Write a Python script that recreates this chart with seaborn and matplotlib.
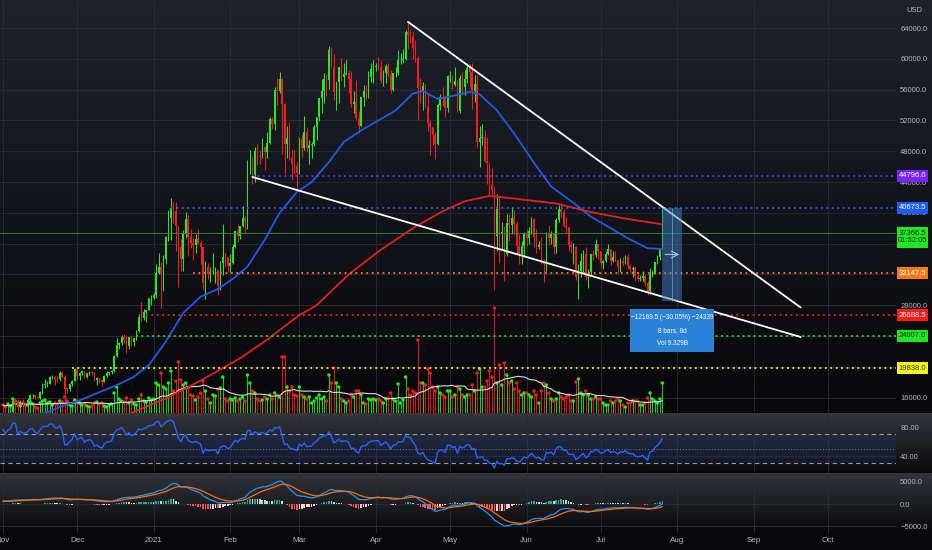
import numpy as np
import pandas as pd
import matplotlib
matplotlib.use('Agg')
import matplotlib.pyplot as plt
import matplotlib.dates as mdates
from matplotlib.patches import Rectangle
import seaborn as sns

# daily BTC/USD candles, 2020-11-01 .. 2021-07-26, prices in thousands
first_open = 13.78
closes = [
    # Nov
    13.74, 13.55, 14.03, 14.16, 15.59, 15.58, 14.83, 15.48, 15.33, 15.30,
    15.70, 16.28, 16.32, 16.07, 15.96, 16.72, 17.65, 17.80, 17.82, 18.65,
    18.70, 18.42, 18.37, 19.15, 18.72, 17.15, 17.14, 17.72, 18.18, 19.70,
    # Dec
    18.79, 19.22, 19.45, 18.70, 19.15, 19.36, 19.17, 18.32, 18.55, 18.26,
    18.04, 18.81, 19.17, 19.27, 19.44, 21.38, 22.80, 23.14, 23.87, 23.48,
    22.75, 23.83, 23.25, 23.72, 24.71, 26.49, 26.28, 27.08, 27.38, 28.88, 28.99,
    # Jan
    29.39, 32.20, 33.00, 31.99, 33.99, 36.82, 39.37, 40.67, 40.24, 38.24,
    35.54, 34.01, 37.39, 39.19, 36.83, 36.07, 35.82, 36.63, 36.07, 35.52,
    30.83, 33.01, 32.08, 32.28, 32.37, 32.57, 30.43, 33.47, 34.32, 34.27, 33.11,
    # Feb
    33.52, 35.51, 37.67, 36.95, 38.29, 39.27, 38.90, 46.43, 46.53, 44.85,
    47.98, 47.41, 47.19, 48.58, 47.94, 49.13, 52.12, 51.59, 55.89, 55.84,
    57.41, 54.09, 48.89, 49.68, 47.07, 46.28, 46.11, 45.14,
    # Mar
    49.63, 48.38, 50.54, 48.44, 48.86, 48.88, 51.21, 52.38, 54.88, 55.86,
    57.33, 57.23, 61.19, 59.00, 55.65, 56.93, 58.92, 57.65, 58.03, 58.10,
    57.35, 54.08, 54.34, 52.30, 51.31, 55.03, 55.85, 55.78, 57.63, 58.73, 58.92,
    # Apr
    59.10, 59.00, 57.10, 58.20, 59.10, 58.00, 56.00, 58.10, 58.10, 59.80,
    59.80, 59.99, 63.50, 63.10, 62.95, 61.35, 60.10, 56.20, 55.70, 56.50,
    53.80, 51.70, 51.10, 50.10, 49.00, 54.00, 55.00, 54.90, 53.55, 57.75,
    # May
    57.80, 56.60, 57.15, 53.20, 57.50, 56.40, 57.35, 58.80, 58.25, 55.85,
    56.70, 49.15, 49.70, 49.90, 46.75, 46.45, 43.55, 42.90, 37.00, 40.75,
    37.30, 37.50, 34.70, 38.70, 38.40, 39.30, 38.55, 35.65, 34.60, 35.65, 37.30,
    # Jun
    36.70, 37.60, 39.20, 36.85, 35.50, 35.80, 33.60, 33.40, 37.40, 36.70,
    37.30, 35.55, 39.10, 40.50, 40.15, 38.35, 38.10, 35.85, 35.50, 35.60,
    31.60, 32.50, 33.70, 34.65, 31.60, 32.25, 34.70, 34.50, 35.90, 35.05,
    # Jul
    33.50, 33.80, 34.70, 35.30, 33.70, 34.20, 33.85, 32.90, 33.80, 33.50,
    34.25, 33.10, 32.70, 32.80, 31.85, 31.40, 31.50, 31.80, 30.85, 29.80,
    32.10, 32.30, 33.60, 34.30, 35.40, 37.37,
]
highs = [
    13.89, 13.81, 14.07, 14.23, 15.75, 15.95, 15.76, 15.63, 15.81, 15.45,
    15.95, 16.48, 16.48, 16.33, 16.13, 16.87, 17.85, 18.48, 18.13, 18.79,
    18.95, 18.75, 18.76, 19.40, 19.47, 18.90, 17.43, 17.88, 18.35, 19.86,
    19.92, 19.31, 19.57, 19.51, 19.17, 19.41, 19.42, 19.29, 18.64, 18.56,
    18.29, 18.94, 19.41, 19.35, 19.57, 21.56, 23.77, 23.28, 24.17, 24.30,
    24.10, 23.84, 24.10, 23.79, 24.79, 26.86, 28.40, 27.47, 27.41, 28.99, 29.30,
    29.60, 33.30, 34.78, 33.60, 34.50, 36.94, 40.37, 41.95, 41.38, 41.35,
    38.30, 36.60, 37.80, 40.10, 39.70, 37.90, 36.80, 37.30, 37.85, 36.40,
    35.60, 33.80, 33.50, 32.90, 34.80, 32.90, 32.60, 33.80, 38.50, 34.90, 34.30,
    34.70, 35.90, 37.70, 38.60, 38.30, 40.90, 39.60, 46.80, 48.20, 47.30,
    48.60, 48.90, 48.10, 49.70, 48.70, 50.50, 52.50, 52.50, 56.30, 57.50,
    58.30, 57.50, 54.20, 51.30, 51.80, 48.30, 48.20, 46.60,
    49.80, 50.20, 52.60, 51.10, 49.40, 49.20, 51.40, 52.40, 54.90, 57.40,
    58.10, 58.00, 61.70, 61.60, 60.60, 56.95, 58.97, 60.10, 59.40, 59.90,
    58.60, 58.40, 55.80, 57.20, 53.20, 55.10, 56.60, 56.60, 58.40, 59.40, 59.80,
    59.50, 60.20, 59.80, 58.50, 59.30, 59.40, 58.60, 58.20, 58.90, 61.20,
    60.70, 61.30, 63.80, 64.90, 63.80, 63.50, 62.50, 60.40, 57.50, 57.00,
    56.70, 55.50, 52.10, 51.20, 50.50, 54.30, 55.40, 56.40, 55.20, 57.90,
    58.40, 57.90, 58.90, 57.20, 57.90, 58.30, 58.60, 59.50, 59.30, 59.50,
    57.90, 57.90, 51.30, 51.50, 50.70, 49.80, 46.60, 45.80, 43.50, 42.50,
    42.20, 38.80, 38.30, 39.90, 39.80, 40.80, 40.40, 38.90, 37.30, 36.40, 37.50,
    37.90, 38.20, 39.50, 39.30, 37.90, 36.40, 36.80, 34.00, 37.50, 38.40,
    37.70, 37.40, 39.30, 41.00, 41.30, 40.50, 39.50, 38.20, 36.40, 36.10,
    35.70, 33.30, 34.80, 35.20, 35.50, 32.70, 34.70, 35.20, 36.60, 36.00,
    35.00, 33.90, 35.00, 35.90, 35.30, 35.00, 35.00, 33.90, 34.10, 34.30,
    34.50, 34.60, 33.30, 33.10, 33.10, 32.20, 31.90, 32.40, 31.90, 31.10,
    32.80, 32.60, 33.60, 34.50, 35.40, 40.67,
]
lows = [
    13.63, 13.20, 13.29, 13.53, 14.09, 15.19, 14.38, 14.72, 14.84, 15.07,
    15.26, 15.42, 15.95, 15.80, 15.87, 15.87, 16.53, 17.23, 17.35, 17.76,
    18.36, 17.64, 18.00, 18.10, 18.57, 16.33, 16.54, 16.89, 17.55, 18.17,
    18.32, 18.35, 18.92, 18.58, 18.59, 18.93, 18.91, 18.20, 17.65, 17.91,
    17.57, 18.02, 18.73, 19.00, 19.05, 19.28, 21.23, 22.35, 22.77, 23.06,
    21.82, 22.36, 22.68, 22.71, 23.44, 24.52, 25.89, 26.09, 25.86, 27.32, 28.08,
    28.80, 29.00, 32.00, 27.70, 29.90, 33.40, 36.30, 36.50, 38.70, 35.10,
    30.40, 32.50, 32.40, 36.70, 34.40, 35.40, 33.90, 34.80, 35.90, 33.40,
    30.10, 28.85, 31.40, 31.00, 32.10, 30.90, 29.30, 30.00, 31.90, 32.90, 32.30,
    32.30, 33.40, 35.40, 36.20, 36.60, 38.10, 37.40, 37.90, 45.00, 43.80,
    44.00, 46.20, 46.30, 47.10, 45.60, 47.10, 48.90, 50.90, 50.70, 54.00,
    55.50, 47.60, 45.00, 47.10, 46.80, 44.20, 45.10, 43.10,
    45.10, 47.10, 48.10, 47.90, 46.30, 47.10, 48.70, 49.40, 51.90, 53.00,
    54.30, 55.20, 56.10, 58.90, 54.60, 53.30, 54.20, 57.10, 56.30, 57.90,
    55.50, 53.70, 53.00, 52.00, 50.40, 51.30, 53.90, 54.70, 54.90, 57.00, 56.90,
    58.40, 58.50, 56.90, 56.50, 56.80, 57.60, 55.50, 55.80, 57.70, 57.90,
    59.30, 59.40, 59.90, 61.30, 62.10, 60.00, 59.60, 52.00, 54.20, 53.40,
    53.70, 50.60, 47.50, 48.80, 47.00, 48.80, 53.30, 53.90, 52.40, 53.10,
    57.00, 56.10, 56.50, 53.10, 52.90, 55.30, 55.30, 56.90, 56.30, 53.50,
    54.40, 48.60, 46.00, 48.80, 46.60, 43.80, 42.20, 42.30, 30.00, 35.00,
    33.50, 35.30, 31.20, 34.40, 36.40, 37.20, 37.20, 34.70, 33.40, 33.40, 34.30,
    35.70, 35.90, 37.20, 35.60, 34.80, 35.30, 33.40, 31.00, 32.40, 35.80,
    35.90, 34.70, 34.80, 38.80, 39.50, 38.10, 37.40, 35.10, 34.80, 33.40,
    31.30, 28.80, 31.70, 32.30, 31.30, 30.20, 31.90, 33.90, 34.20, 34.00,
    32.80, 32.70, 33.60, 34.50, 33.20, 33.60, 33.80, 32.20, 32.30, 33.10,
    33.40, 32.70, 32.30, 31.60, 31.20, 31.10, 31.20, 31.10, 30.50, 29.30,
    29.50, 31.70, 32.00, 33.40, 33.90, 35.30,
]
volumes = [
    8, 6, 9, 7, 14, 12, 9, 7, 10, 8, 8, 11, 9, 6, 5, 10, 12, 13, 10, 11,
    8, 10, 9, 12, 11, 16, 12, 8, 7, 13,
    12, 10, 8, 9, 7, 6, 7, 10, 11, 9, 10, 7, 6, 8, 9, 20, 26, 14, 12, 11,
    15, 10, 13, 9, 8, 14, 18, 12, 11, 15, 13,
    14, 30, 28, 40, 26, 24, 30, 42, 22, 32, 51, 33, 28, 30, 25, 18, 17, 13, 16, 20,
    32, 22, 14, 10, 18, 17, 24, 25, 36, 14, 12,
    14, 13, 15, 12, 14, 16, 12, 38, 30, 22, 20, 14, 12, 13, 16, 14, 18, 14, 20, 18,
    16, 56, 56, 26, 22, 26, 18, 17,
    26, 18, 16, 14, 16, 10, 12, 15, 18, 14, 16, 12, 38, 30, 45, 30, 26, 14, 12, 10,
    12, 18, 16, 22, 22, 18, 10, 9, 14, 13, 14,
    13, 14, 12, 10, 14, 15, 20, 14, 12, 29, 10, 13, 36, 24, 18, 22, 20, 73, 30, 30,
    28, 44, 40, 26, 22, 26, 20, 18, 16, 22,
    22, 16, 18, 26, 24, 18, 16, 18, 18, 28, 22, 40, 44, 26, 26, 32, 42, 36, 105, 30,
    48, 28, 50, 38, 30, 32, 24, 30, 22, 18, 20,
    20, 18, 16, 22, 18, 10, 22, 30, 28, 20, 14, 12, 14, 20, 16, 14, 16, 18, 12, 12,
    31, 34, 20, 18, 22, 18, 14, 14, 16, 14,
    14, 10, 8, 8, 12, 10, 12, 14, 12, 8, 6, 10, 10, 12, 12, 12, 8, 8, 10, 15,
    20, 14, 12, 10, 14, 30,
]
# Oct 2020 closes, only used to warm up RSI / MACD
warmup_closes = [
    10.62, 10.58, 10.55, 10.67, 10.79, 10.60, 10.67, 10.92, 11.06, 11.30,
    11.38, 11.54, 11.43, 11.43, 11.51, 11.32, 11.37, 11.50, 11.75, 11.92,
    12.82, 12.97, 12.93, 13.12, 13.03, 13.07, 13.64, 13.27, 13.46, 13.56, 13.78,
]

# moving averages (thousands)
ma_fast_dates = ['2020-11-15', '2020-11-19', '2020-11-25', '2020-12-01', '2020-12-10',
                 '2020-12-17', '2020-12-24', '2020-12-30', '2021-01-06', '2021-01-13',
                 '2021-01-20', '2021-01-27', '2021-02-02', '2021-02-08', '2021-02-15',
                 '2021-02-21', '2021-02-28', '2021-03-06', '2021-03-13', '2021-03-19',
                 '2021-03-26', '2021-04-02', '2021-04-09', '2021-04-16', '2021-04-20',
                 '2021-04-26', '2021-05-01', '2021-05-09', '2021-05-13', '2021-05-20',
                 '2021-05-27', '2021-06-04', '2021-06-11', '2021-06-20', '2021-06-27',
                 '2021-07-04', '2021-07-12', '2021-07-20', '2021-07-26']
ma_fast = [13.6, 14.1, 14.9, 15.5, 16.7, 17.6, 18.7, 20.2, 23.3, 27.0,
           29.1, 30.1, 31.4, 33.0, 36.5, 40.0, 42.7, 44.0, 46.6, 49.2,
           50.7, 52.0, 53.3, 55.5, 55.8, 54.8, 55.1, 55.7, 55.4, 53.3,
           50.3, 46.5, 43.4, 41.3, 39.5, 38.2, 36.7, 35.4, 35.3]
ma_slow_dates = ['2020-12-20', '2020-12-26', '2021-01-06', '2021-01-20', '2021-02-05',
                 '2021-02-15', '2021-03-01', '2021-03-08', '2021-03-21', '2021-04-03',
                 '2021-04-17', '2021-04-28', '2021-05-07', '2021-05-17', '2021-05-31',
                 '2021-06-13', '2021-06-27', '2021-07-10', '2021-07-26']
ma_slow = [13.6, 14.4, 15.9, 18.2, 21.1, 23.3, 26.7, 28.0, 32.0, 35.2,
           38.2, 40.2, 41.5, 42.2, 41.7, 41.2, 40.1, 39.3, 38.5]

# horizontal levels (price, start date)
level_prices = [44796.0, 40673.5, 32147.5, 26688.5, 24007.0, 19838.0]
level_starts = ['2021-02-10', '2021-01-08', '2021-01-17', '2020-12-29', '2020-12-25', '2020-11-29']
level_colors = ['#5a3cf0', '#2f5fe8', '#ff7a1a', '#f02020', '#22dd22', '#f2f21e']
tag_colors = ['#7a22ff', '#1f5cff', '#f57a14', '#ff1c1c', '#22e622', '#f5f51c']
tag_text = ['white', 'white', 'white', 'white', '#0a300a', '#303000']
last_price = 37366.5
countdown = '01:52:05'

# wedge trend lines
upper_line = [('2021-04-14', 64800), ('2021-09-20', 27700)]
lower_line = [('2021-02-10', 44650), ('2021-09-20', 23870)]

# price range measurement
measure_hi = 40673.5
measure_change = -12169.5
measure_bars = 8
measure_text = ['\u221212169.5 (\u221230.05%) \u221224339', '8 bars, 8d', 'Vol 9.329B']

months = pd.date_range('2020-11-01', '2021-10-01', freq='MS')
month_labels = ['Nov', 'Dec', '2021', 'Feb', 'Mar', 'Apr', 'May', 'Jun', 'Jul', 'Aug', 'Sep', 'Oct']
price_ticks = list(range(16000, 66000, 4000))
hidden_ticks = [20000, 24000, 32000, 36000]  # covered by the level tags

# ---------------------------------------------------------------------------
sns.set_theme(style='dark', rc={'axes.facecolor': 'none',
                                'figure.facecolor': '#08080a',
                                'savefig.facecolor': '#08080a'})
plt.rcParams['font.family'] = ['Liberation Sans Narrow', 'Liberation Sans', 'DejaVu Sans']
FS = 5.5
TXT = '#b2b5be'
UP, DOWN = '#27e627', '#f01e23'

n = len(closes)
dates = pd.date_range('2020-11-01', periods=n, freq='D')
x = mdates.date2num(dates)
c = np.array(closes) * 1000
o = np.array([first_open] + closes[:-1]) * 1000
h = np.array(highs) * 1000
l = np.array(lows) * 1000
vol = np.array(volumes, dtype=float)
up = c >= o
cols = np.where(up, UP, DOWN)

# indicators
allc = pd.Series(np.array(warmup_closes + closes) * 1000)
d = allc.diff()
ag = d.clip(lower=0).ewm(alpha=1 / 14, adjust=False).mean()
al = (-d.clip(upper=0)).ewm(alpha=1 / 14, adjust=False).mean()
rsi = (100 - 100 / (1 + ag / al)).iloc[-n:].to_numpy()
macd_s = allc.ewm(span=12, adjust=False).mean() - allc.ewm(span=26, adjust=False).mean()
sig_s = macd_s.ewm(span=9, adjust=False).mean()
macd = macd_s.iloc[-n:].to_numpy()
sig = sig_s.iloc[-n:].to_numpy()
hist = macd - sig
prev = np.concatenate([[hist[0]], hist[:-1]])
hcols = np.where(hist >= 0, np.where(hist >= prev, '#26a69a', '#b2dfdb'),
                 np.where(hist < prev, '#ff5252', '#ffcdd2'))
vma = pd.Series(vol).rolling(20, min_periods=1).mean().to_numpy()

# figure and background
fig = plt.figure(figsize=(9.32, 5.5), dpi=100)
bg = fig.add_axes([0, 0, 1, 1], zorder=-5)
bg.axis('off')
prof = np.zeros((550, 3))
prof[:413] = np.linspace([31, 34, 44], [8, 8, 10], 413)
prof[413:473] = np.linspace([52, 54, 60], [9, 9, 11], 60)
prof[473:533] = np.linspace([50, 52, 58], [9, 9, 11], 60)
prof[533:] = [8, 8, 10]
bg.imshow(prof[:, None, :] / 255, aspect='auto', extent=[0, 1, 0, 1])
bg.set_xlim(0, 1)
bg.set_ylim(0, 1)

W = 896 / 932
ax = fig.add_axes([0, 137 / 550, W, 413 / 550])
ax_rsi = fig.add_axes([0, 77 / 550, W, 60 / 550], sharex=ax)
ax_macd = fig.add_axes([0, 17 / 550, W, 60 / 550], sharex=ax)
for a in (ax, ax_rsi, ax_macd):
    a.set_facecolor('none')
    for s in a.spines.values():
        s.set_visible(False)
    a.grid(True, color='#2a2d36', lw=0.6)
    a.set_axisbelow(True)
    a.yaxis.tick_right()
    a.tick_params(length=0, labelsize=FS, colors=TXT, pad=3)

x0 = mdates.date2num(pd.Timestamp('2020-11-01')) - 1.2
x1 = mdates.date2num(pd.Timestamp('2021-10-28')) + 0.6

# volume (bottom of the price pane)
VOL_TOP = 413
vtr = ax.get_xaxis_transform()
ax.vlines(x, 0, vol / VOL_TOP, colors=cols, lw=0.8, transform=vtr, zorder=2, alpha=0.85)
ax.scatter(x, vol / VOL_TOP, s=6, c=cols, lw=0, transform=vtr, zorder=2)
ax.plot(x, vma / VOL_TOP, color='#dcdcdc', lw=0.8, transform=vtr, zorder=2)

# candles
ax.vlines(x, l, h, colors=cols, lw=0.75, zorder=3)
ax.bar(x, np.maximum(np.abs(c - o), 50), bottom=np.minimum(o, c), width=0.62,
       color=cols, lw=0, zorder=4)

# moving averages
sns.lineplot(x=mdates.date2num(pd.to_datetime(ma_fast_dates)), y=np.array(ma_fast) * 1000,
             ax=ax, color='#2457e6', lw=1.3, zorder=5)
sns.lineplot(x=mdates.date2num(pd.to_datetime(ma_slow_dates)), y=np.array(ma_slow) * 1000,
             ax=ax, color='#e3201c', lw=1.3, zorder=5)

# levels
ax.axhline(last_price, color='#1e9a28', lw=0.6, zorder=4)
for p, sd, lc in zip(level_prices, level_starts, level_colors):
    ax.hlines(p, mdates.date2num(pd.Timestamp(sd)), x1, colors=lc, lw=1.3,
              linestyles=(0, (1, 2)), zorder=5)

# trend lines
for line in (upper_line, lower_line):
    ax.plot(mdates.date2num(pd.to_datetime([line[0][0], line[1][0]])),
            [line[0][1], line[1][1]], color='white', lw=1.3, zorder=6)

# measurement tool
xl = x[-1]
lo = measure_hi + measure_change
ax.add_patch(Rectangle((xl, lo), measure_bars, measure_hi - lo, fc='#3f80c4', alpha=0.5,
                       ec='none', zorder=6))
ax.vlines(xl + measure_bars / 2, lo, measure_hi, colors='#9cc4ec', lw=0.6, alpha=0.6, zorder=6)
ax.annotate('', xy=(xl + measure_bars, (lo + measure_hi) / 2), xytext=(xl, (lo + measure_hi) / 2),
            arrowprops=dict(arrowstyle='->', color='#a0c6ee', lw=0.8), zorder=7)

ax.set_xlim(x0, x1)
ax.set_ylim(14000, 67640)
ppx = (67640 - 14000) / 413  # price per pixel

bx = xl + measure_bars / 2
btop = lo - 8 * ppx
bh = 43 * ppx
ax.add_patch(Rectangle((bx - 17, btop - bh), 34, bh, fc='#2b82d6', ec='none', zorder=8))
for i, t in enumerate(measure_text):
    ax.text(bx, btop - (8 + 13 * i) * ppx, t, color='white', fontsize=4.7, ha='center',
            va='center', zorder=9)

ax.set_yticks(price_ticks)
ax.set_yticklabels(['' if v in hidden_ticks else f'{v:.1f}' for v in price_ticks])
ax.set_xticks(mdates.date2num(months))
ax.set_xticklabels(month_labels)
ax.tick_params(labelbottom=False)


def price_tag(a, y, text, fc, tc, hpx=12, dy=0):
    tr = a.get_yaxis_transform()
    a.add_patch(Rectangle((1.001, y - (hpx / 2 - dy) * ppx), 31 / 896, hpx * ppx, transform=tr,
                          fc=fc, ec='none', clip_on=False, zorder=20))
    a.text(1.001 + 15.5 / 896, y + dy * ppx, text, transform=tr, color=tc, fontsize=FS,
           ha='center', va='center', clip_on=False, zorder=21, linespacing=1.15)


for p, fc, tc in zip(level_prices, tag_colors, tag_text):
    price_tag(ax, p, f'{p:.1f}', fc, tc)
price_tag(ax, last_price, f'{last_price:.1f}\n{countdown}', '#22e622', '#0a300a', hpx=21, dy=-4)

# RSI pane
ax_rsi.axhspan(30, 70, color='#2848b0', alpha=0.16, lw=0)
ax_rsi.axhline(70, color='#9a9ca5', lw=0.8, ls=(0, (4, 3)))
ax_rsi.axhline(30, color='#9a9ca5', lw=0.8, ls=(0, (4, 3)))
ax_rsi.axhline(50, color='#9a9ca5', lw=0.7, ls=(0, (1, 2)), alpha=0.7)
sns.lineplot(x=x, y=rsi, ax=ax_rsi, color='#2962ff', lw=1.0)
ax_rsi.set_ylim(16.6, 99.3)
ax_rsi.set_yticks([40, 80])
ax_rsi.set_yticklabels(['40.00', '80.00'])
ax_rsi.tick_params(labelbottom=False)

# MACD pane
ax_macd.bar(x, hist, width=0.65, color=hcols, lw=0)
sns.lineplot(x=x, y=macd, ax=ax_macd, color='#2196f3', lw=0.9)
sns.lineplot(x=x, y=sig, ax=ax_macd, color='#ff6d00', lw=0.9)
ax_macd.set_ylim(-6590, 7045)
ax_macd.set_yticks([-5000, 0, 5000])
ax_macd.set_yticklabels(['\u22125000.0', '0.0', '5000.0'])
ax_macd.tick_params(axis='x', labelsize=FS + 0.3, pad=3)
ax_macd.set_xlim(x0, x1)

for a in (ax, ax_rsi, ax_macd):
    a.set_xlabel('')
    a.set_ylabel('')

fig.text(914 / 932, 1 - 10 / 550, 'USD', ha='center', va='center', fontsize=FS, color=TXT)

fig.savefig('out.png', dpi=100)
